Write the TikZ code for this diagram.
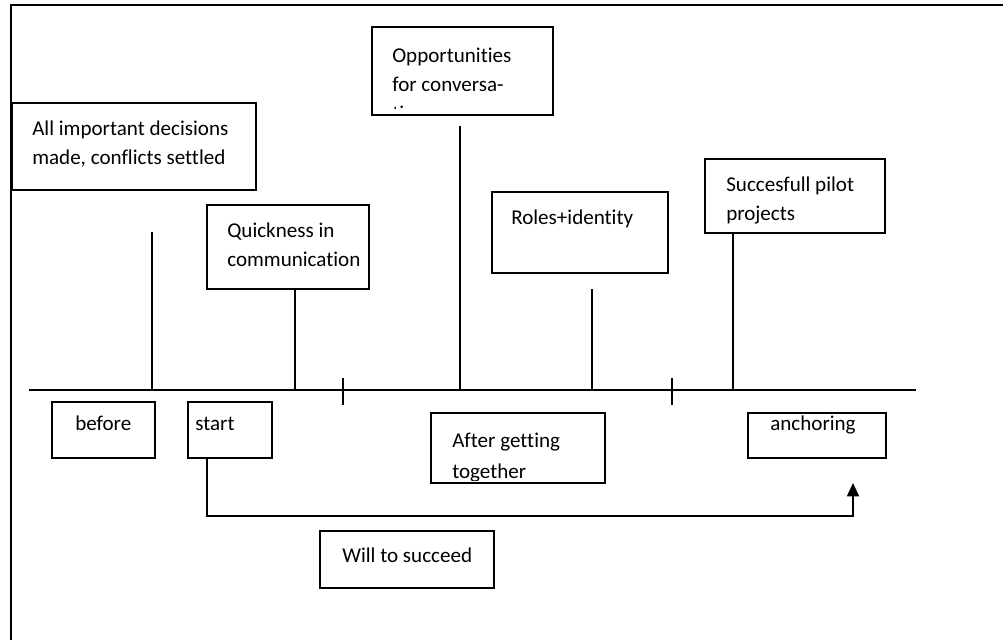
\documentclass[tikz,border=0pt]{standalone}
\usepackage{fontspec}
\setmainfont{Carlito}[Ligatures={NoCommon}]
\usetikzlibrary{arrows.meta}
\begin{document}
\begin{tikzpicture}[x=0.75pt,y=-0.75pt,
  ln/.style={line width=1.3pt,black},
  box/.style={draw,line width=1.3pt,rectangle},
  txt/.style={anchor=base west,inner sep=0pt,font=\fontsize{15.8}{21.75}\selectfont}]
\useasboundingbox (0,0) rectangle (1003,640);
% frame
\draw[ln] (11,640) -- (11,5) -- (1003,5);
% boxes
\draw[box] (12,103) rectangle (256,190);
\node[txt] (tA1) at (32,135) {All important decisions};
\node[txt] (tA2) at (32,164) {made, conflicts settled};
\draw[box] (372,27) rectangle (553,115);
\node[txt] (tO1) at (392,62) {Opportunities};
\node[txt] (tO2) at (392,91) {for conversa-};
\begin{scope}\clip (372,27) rectangle (553,108);
\node[txt] (tO3) at (392,120) {tion};
\end{scope}
\draw[box] (207,205) rectangle (369,289);
\node[txt] (tQ1) at (227,237) {Quickness in};
\node[txt] (tQ2) at (227,266) {communication};
\draw[box] (705,159) rectangle (885,233);
\node[txt] (tS1) at (726,191) {Succesfull pilot};
\node[txt] (tS2) at (726,220) {projects};
\draw[box] (492,192) rectangle (668,273);
\node[txt] (tR) at (511,224) {Roles+identity};
\draw[box] (52,402) rectangle (155,458);
\node[txt] (tB) at (75,430) {before};
\draw[box] (188,402) rectangle (272,458);
\node[txt] (tSt) at (195,430) {start};
\draw[box] (431,413) rectangle (605,483);
\node[txt] (tG1) at (452,447) {After getting};
\begin{scope}\clip (431,413) rectangle (605,480);
\node[txt] (tG2) at (452,478) {together};
\end{scope}
\draw[box] (748,413) rectangle (886,458);
\node[txt] (tAn) at (770,430) {anchoring};
\draw[box] (320,531) rectangle (494,588);
\node[txt] (tW) at (342,562) {Will to succeed};
% axis
\draw[ln] (29,390) -- (916,390);
\draw[ln] (152,232) -- (152,390);
\draw[ln] (295,289) -- (295,390);
\draw[ln] (460,126) -- (460,390);
\draw[ln] (592,289) -- (592,390);
\draw[ln] (733,233) -- (733,390);
\draw[ln] (343,378) -- (343,405);
\draw[ln] (672,378) -- (672,405);
% arrow
\draw[ln,-{Triangle[length=10pt,width=9pt]}] (207,458) -- (207,516) -- (853,516) -- (853,483);
\end{tikzpicture}
\end{document}
